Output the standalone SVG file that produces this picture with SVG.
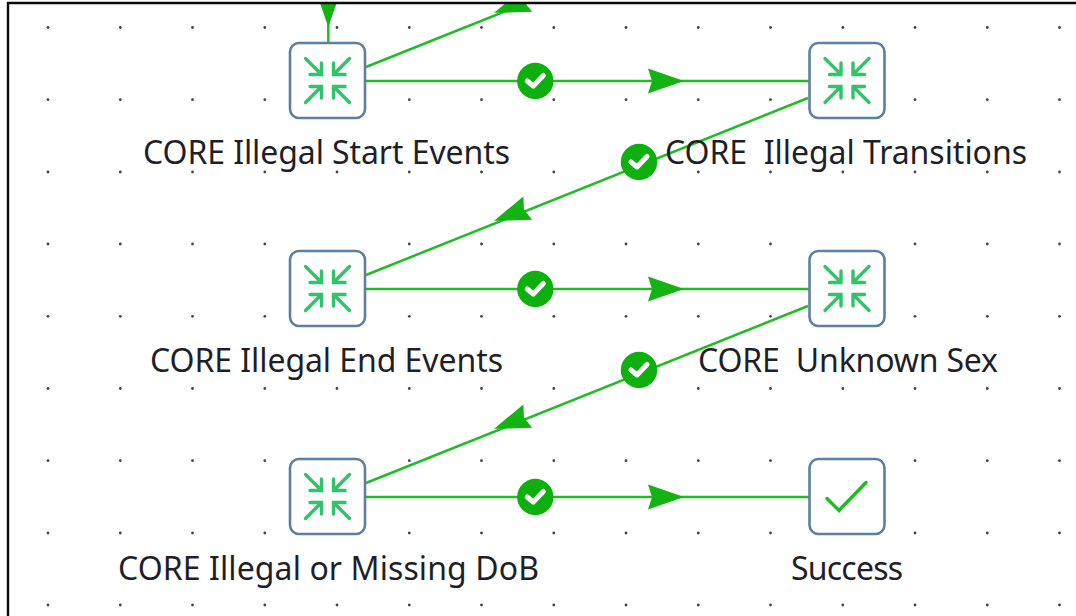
<svg xmlns="http://www.w3.org/2000/svg" width="1076" height="616" viewBox="0 0 1076 616">
<style>
.node{fill:#fff;stroke:#5f7f9c;stroke-width:2.6}
.ic{fill:none;stroke:#2fc468;stroke-width:3.4;stroke-linecap:round;stroke-linejoin:miter}
.ok{fill:none;stroke:#1fba26;stroke-width:3.4;stroke-linecap:round;stroke-linejoin:miter}
.ln{fill:none;stroke:#22bb26;stroke-width:2.5}
.head{fill:#12b312}
.bd{fill:#0db00d}
.ck{fill:none;stroke:#fff;stroke-width:5;stroke-linecap:round;stroke-linejoin:round}
.lbl{font-family:"Noto Sans","Open Sans",sans-serif;font-size:32px;fill:#1f1f28;text-anchor:middle;white-space:pre}
.dots circle{fill:#444}
.frame{fill:none;stroke:#0a0a0a;stroke-width:2.4}
</style>
<defs>
<clipPath id="clip"><rect x="9" y="4" width="1067" height="612"/></clipPath>
<path id="arrow" d="M1 0L-35 -12.5L-31 0L-35 12.5Z"/>
<circle id="badge" r="18.2"/>
<path id="check" d="M-8 0L-2 5L8 -5.5"/>
<g id="compress">
<path class="ic" d="M-22 -22L-6 -6M-17.5 -6H-6V-17.5"/>
<path class="ic" d="M22 -22L6 -6M17.5 -6H6V-17.5"/>
<path class="ic" d="M-22 22L-6 6M-17.5 6H-6V17.5"/>
<path class="ic" d="M22 22L6 6M17.5 6H6V17.5"/>
</g>
</defs>
<rect width="1076" height="616" fill="#fff"/>
<g class="dots" id="grid">
<circle r="1.4" cx="48" cy="27.5"/><circle r="1.4" cx="120.3" cy="27.5"/><circle r="1.4" cx="192.5" cy="27.5"/><circle r="1.4" cx="264.8" cy="27.5"/><circle r="1.4" cx="337" cy="27.5"/><circle r="1.4" cx="409.3" cy="27.5"/><circle r="1.4" cx="481.5" cy="27.5"/><circle r="1.4" cx="553.8" cy="27.5"/><circle r="1.4" cx="626" cy="27.5"/><circle r="1.4" cx="698.3" cy="27.5"/><circle r="1.4" cx="770.5" cy="27.5"/><circle r="1.4" cx="842.8" cy="27.5"/><circle r="1.4" cx="915" cy="27.5"/><circle r="1.4" cx="987.3" cy="27.5"/><circle r="1.4" cx="1059.5" cy="27.5"/>
<circle r="1.4" cx="48" cy="99.7"/><circle r="1.4" cx="120.3" cy="99.7"/><circle r="1.4" cx="192.5" cy="99.7"/><circle r="1.4" cx="264.8" cy="99.7"/><circle r="1.4" cx="409.3" cy="99.7"/><circle r="1.4" cx="481.5" cy="99.7"/><circle r="1.4" cx="553.8" cy="99.7"/><circle r="1.4" cx="626" cy="99.7"/><circle r="1.4" cx="698.3" cy="99.7"/><circle r="1.4" cx="770.5" cy="99.7"/><circle r="1.4" cx="915" cy="99.7"/><circle r="1.4" cx="987.3" cy="99.7"/><circle r="1.4" cx="1059.5" cy="99.7"/>
<circle r="1.4" cx="48" cy="172"/><circle r="1.4" cx="120.3" cy="172"/><circle r="1.4" cx="192.5" cy="172"/><circle r="1.4" cx="264.8" cy="172"/><circle r="1.4" cx="337" cy="172"/><circle r="1.4" cx="409.3" cy="172"/><circle r="1.4" cx="481.5" cy="172"/><circle r="1.4" cx="553.8" cy="172"/><circle r="1.4" cx="698.3" cy="172"/><circle r="1.4" cx="770.5" cy="172"/><circle r="1.4" cx="842.8" cy="172"/><circle r="1.4" cx="915" cy="172"/><circle r="1.4" cx="987.3" cy="172"/><circle r="1.4" cx="1059.5" cy="172"/>
<circle r="1.4" cx="48" cy="244"/><circle r="1.4" cx="120.3" cy="244"/><circle r="1.4" cx="192.5" cy="244"/><circle r="1.4" cx="264.8" cy="244"/><circle r="1.4" cx="409.3" cy="244"/><circle r="1.4" cx="481.5" cy="244"/><circle r="1.4" cx="553.8" cy="244"/><circle r="1.4" cx="626" cy="244"/><circle r="1.4" cx="698.3" cy="244"/><circle r="1.4" cx="770.5" cy="244"/><circle r="1.4" cx="915" cy="244"/><circle r="1.4" cx="987.3" cy="244"/><circle r="1.4" cx="1059.5" cy="244"/>
<circle r="1.4" cx="48" cy="316.3"/><circle r="1.4" cx="120.3" cy="316.3"/><circle r="1.4" cx="192.5" cy="316.3"/><circle r="1.4" cx="264.8" cy="316.3"/><circle r="1.4" cx="409.3" cy="316.3"/><circle r="1.4" cx="481.5" cy="316.3"/><circle r="1.4" cx="553.8" cy="316.3"/><circle r="1.4" cx="626" cy="316.3"/><circle r="1.4" cx="698.3" cy="316.3"/><circle r="1.4" cx="770.5" cy="316.3"/><circle r="1.4" cx="915" cy="316.3"/><circle r="1.4" cx="987.3" cy="316.3"/><circle r="1.4" cx="1059.5" cy="316.3"/>
<circle r="1.4" cx="48" cy="388.5"/><circle r="1.4" cx="120.3" cy="388.5"/><circle r="1.4" cx="192.5" cy="388.5"/><circle r="1.4" cx="264.8" cy="388.5"/><circle r="1.4" cx="337" cy="388.5"/><circle r="1.4" cx="409.3" cy="388.5"/><circle r="1.4" cx="481.5" cy="388.5"/><circle r="1.4" cx="553.8" cy="388.5"/><circle r="1.4" cx="698.3" cy="388.5"/><circle r="1.4" cx="770.5" cy="388.5"/><circle r="1.4" cx="842.8" cy="388.5"/><circle r="1.4" cx="915" cy="388.5"/><circle r="1.4" cx="987.3" cy="388.5"/><circle r="1.4" cx="1059.5" cy="388.5"/>
<circle r="1.4" cx="48" cy="460.7"/><circle r="1.4" cx="120.3" cy="460.7"/><circle r="1.4" cx="192.5" cy="460.7"/><circle r="1.4" cx="264.8" cy="460.7"/><circle r="1.4" cx="409.3" cy="460.7"/><circle r="1.4" cx="481.5" cy="460.7"/><circle r="1.4" cx="553.8" cy="460.7"/><circle r="1.4" cx="626" cy="460.7"/><circle r="1.4" cx="698.3" cy="460.7"/><circle r="1.4" cx="770.5" cy="460.7"/><circle r="1.4" cx="915" cy="460.7"/><circle r="1.4" cx="987.3" cy="460.7"/><circle r="1.4" cx="1059.5" cy="460.7"/>
<circle r="1.4" cx="48" cy="533"/><circle r="1.4" cx="120.3" cy="533"/><circle r="1.4" cx="192.5" cy="533"/><circle r="1.4" cx="264.8" cy="533"/><circle r="1.4" cx="409.3" cy="533"/><circle r="1.4" cx="481.5" cy="533"/><circle r="1.4" cx="553.8" cy="533"/><circle r="1.4" cx="626" cy="533"/><circle r="1.4" cx="698.3" cy="533"/><circle r="1.4" cx="770.5" cy="533"/><circle r="1.4" cx="915" cy="533"/><circle r="1.4" cx="987.3" cy="533"/><circle r="1.4" cx="1059.5" cy="533"/>
<circle r="1.4" cx="48" cy="605"/><circle r="1.4" cx="120.3" cy="605"/><circle r="1.4" cx="192.5" cy="605"/><circle r="1.4" cx="264.8" cy="605"/><circle r="1.4" cx="337" cy="605"/><circle r="1.4" cx="409.3" cy="605"/><circle r="1.4" cx="481.5" cy="605"/><circle r="1.4" cx="553.8" cy="605"/><circle r="1.4" cx="626" cy="605"/><circle r="1.4" cx="698.3" cy="605"/><circle r="1.4" cx="770.5" cy="605"/><circle r="1.4" cx="842.8" cy="605"/><circle r="1.4" cx="915" cy="605"/><circle r="1.4" cx="987.3" cy="605"/><circle r="1.4" cx="1059.5" cy="605"/>
</g>
<g id="connectors" clip-path="url(#clip)">
<g><path class="ln" d="M328.3 0V43"/><use href="#arrow" class="head" transform="translate(328.3 26) rotate(90)"/></g>
<g><path class="ln" d="M808 -110L366 67"/><use href="#arrow" class="head" transform="translate(495 12.5) rotate(159.3)"/></g>
<g><path class="ln" d="M365 81H809"/><use href="#arrow" class="head" transform="translate(683 81)"/><use href="#badge" class="bd" transform="translate(535.3 81)"/><use href="#check" class="ck" transform="translate(535.3 81)"/></g>
<g><path class="ln" d="M808 98L366 275"/><use href="#arrow" class="head" transform="translate(495 220.5) rotate(159.3)"/><use href="#badge" class="bd" transform="translate(639 162)"/><use href="#check" class="ck" transform="translate(639 162)"/></g>
<g><path class="ln" d="M365 289H809"/><use href="#arrow" class="head" transform="translate(683 289)"/><use href="#badge" class="bd" transform="translate(535.3 289)"/><use href="#check" class="ck" transform="translate(535.3 289)"/></g>
<g><path class="ln" d="M808 306L366 483"/><use href="#arrow" class="head" transform="translate(495 428.5) rotate(159.3)"/><use href="#badge" class="bd" transform="translate(639 370)"/><use href="#check" class="ck" transform="translate(639 370)"/></g>
<g><path class="ln" d="M365 497H809"/><use href="#arrow" class="head" transform="translate(683 497)"/><use href="#badge" class="bd" transform="translate(535.3 497)"/><use href="#check" class="ck" transform="translate(535.3 497)"/></g>
</g>
<g id="n1"><rect class="node" x="290" y="43" width="75" height="75" rx="9"/><use href="#compress" transform="translate(327.5 80.5)"/><text class="lbl" x="326.5" y="164" textLength="367">CORE Illegal Start Events</text></g>
<g id="n2"><rect class="node" x="809.5" y="43" width="75" height="75" rx="9"/><use href="#compress" transform="translate(847 80.5)"/><text class="lbl" x="846" y="164" textLength="362">CORE  Illegal Transitions</text></g>
<g id="n3"><rect class="node" x="290" y="251" width="75" height="75" rx="9"/><use href="#compress" transform="translate(327.5 288.5)"/><text class="lbl" x="326.5" y="372" textLength="353">CORE Illegal End Events</text></g>
<g id="n4"><rect class="node" x="809.5" y="251" width="75" height="75" rx="9"/><use href="#compress" transform="translate(847 288.5)"/><text class="lbl" x="848" y="372" textLength="300">CORE  Unknown Sex</text></g>
<g id="n5"><rect class="node" x="290" y="459" width="75" height="75" rx="9"/><use href="#compress" transform="translate(327.5 496.5)"/><text class="lbl" x="328.5" y="580" textLength="421">CORE Illegal or Missing DoB</text></g>
<g id="n6"><rect class="node" x="809.5" y="459" width="75" height="75" rx="9"/><path class="ok" d="M827 498.5L839 510.5L866 482.5"/><text class="lbl" x="847" y="580" textLength="112">Success</text></g>
<path class="frame" d="M8 616V3H1076"/>
</svg>
